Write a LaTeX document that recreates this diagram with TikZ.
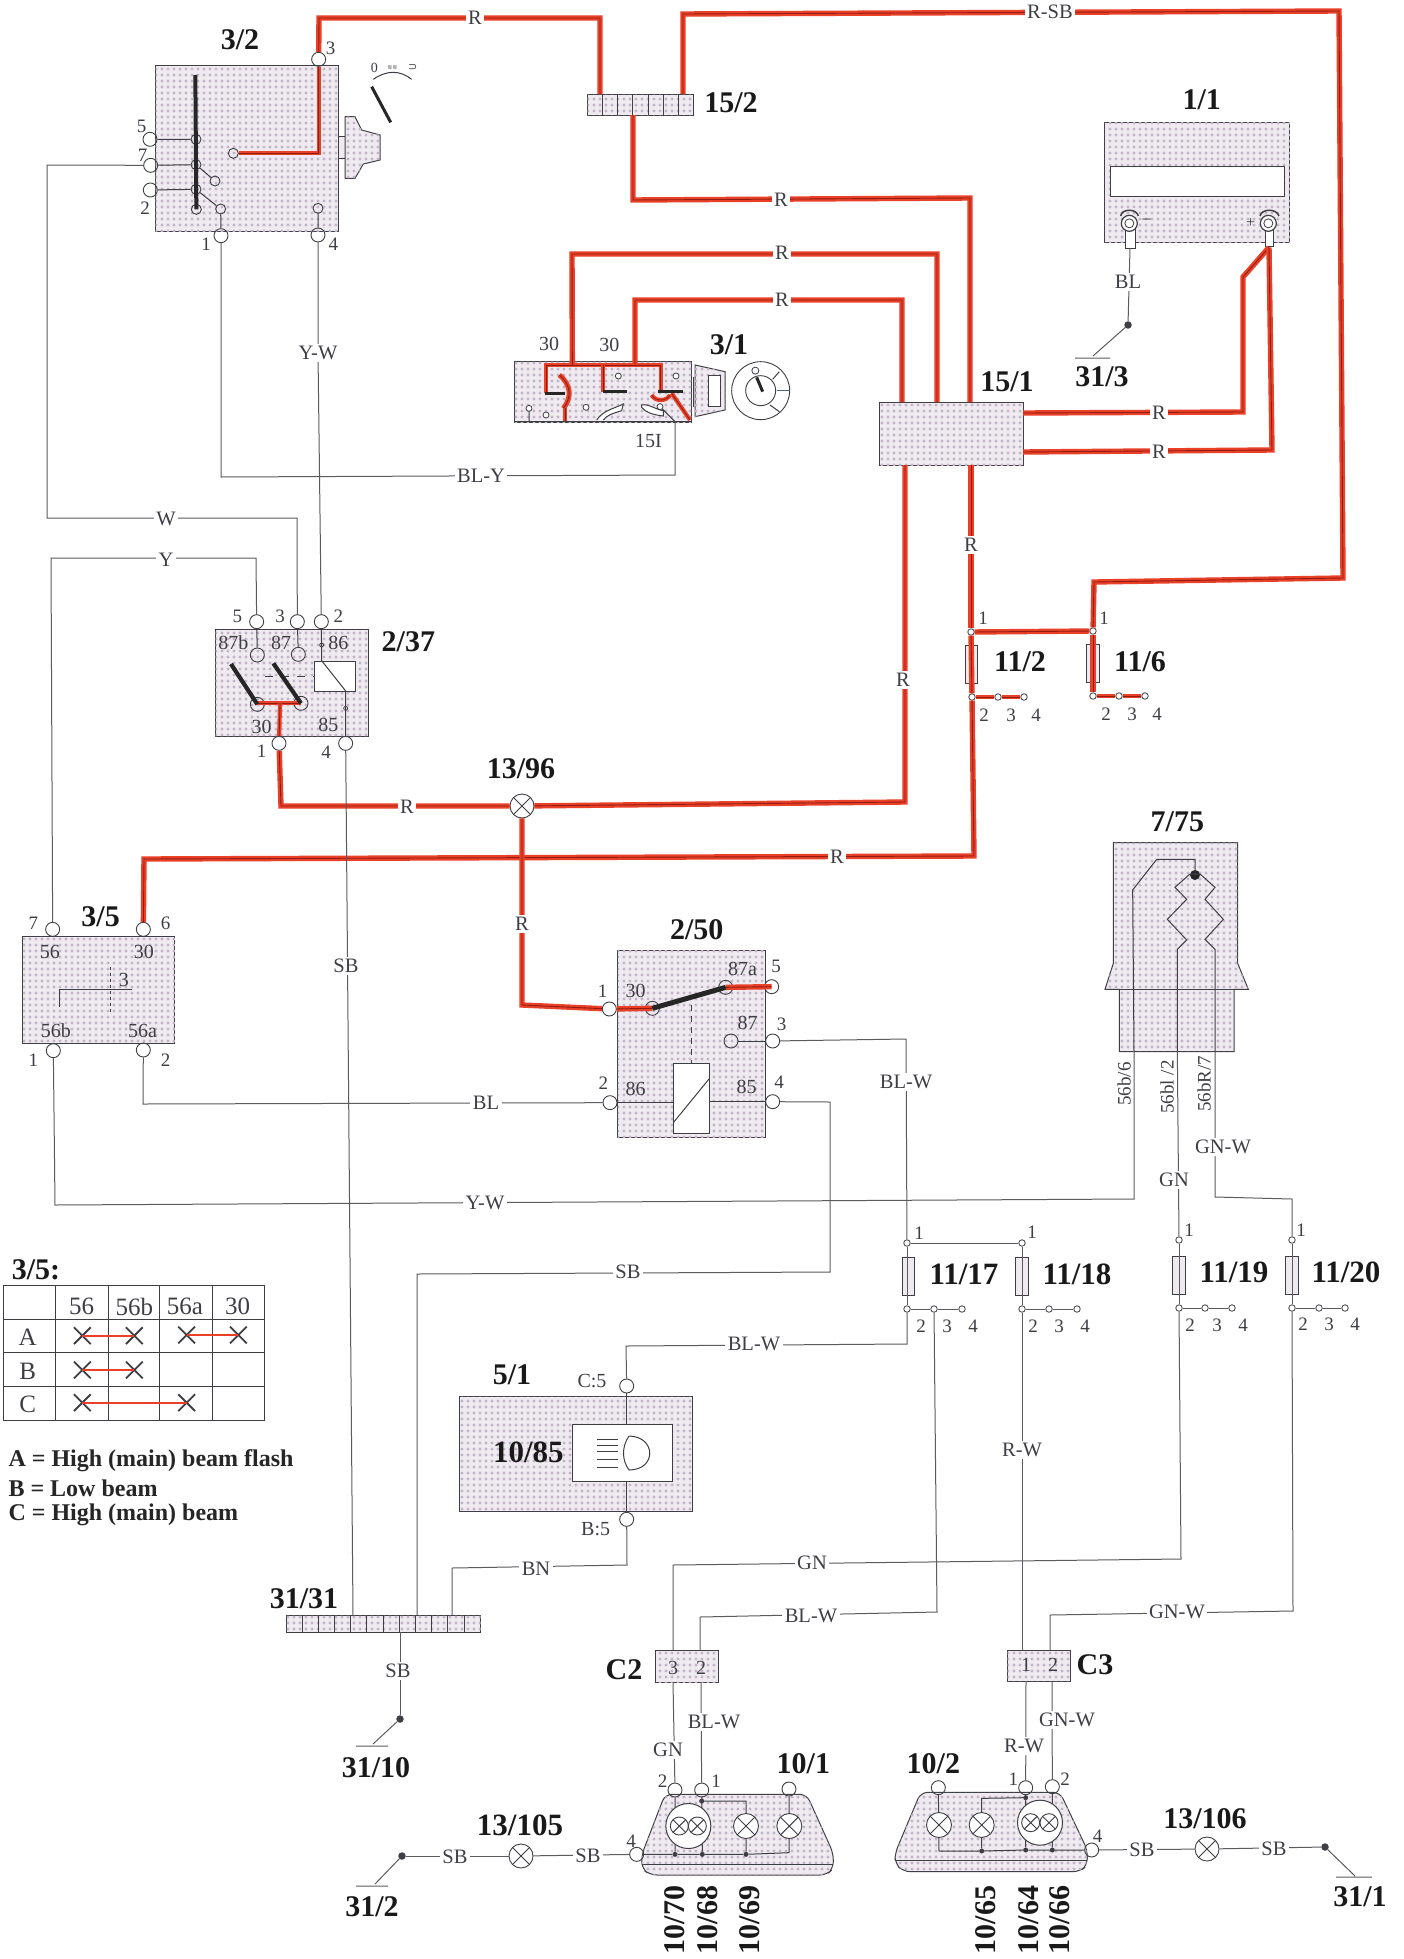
\documentclass[tikz,border=0pt]{standalone}
\usepackage{fontspec}
\setmainfont{Liberation Serif}
\newfontfamily\djv{DejaVu Sans}
\usetikzlibrary{patterns.meta,shapes.misc}
\definecolor{ink}{HTML}{3E3E44}
\definecolor{wirec}{HTML}{5C5A5E}
\definecolor{redc}{HTML}{EA4028}
\definecolor{redcore}{HTML}{8E1E12}
\definecolor{stip}{HTML}{EFEAF0}
\definecolor{stipd}{HTML}{C0B4C6}
\tikzset{
 zm/.style 2 args={shift={(#1,#2)},x=.33333pt,y=-.33333pt},
 comp/.style={draw=ink,line width=1pt,fill=stip,postaction={pattern={Dots[distance=6pt,radius=1.6pt]},pattern color=stipd}},
 box/.style 2 args={comp,rectangle,inner sep=0,anchor=north west,minimum width=#1,minimum height=#2},
 whitebox/.style={draw=ink,line width=1pt,fill=white},
 tw/.style={draw=wirec,line width=1pt},
 ik/.style={draw=ink,line width=1pt},
 redw/.style={draw=redc,line width=5.4pt,postaction={draw=redcore,line width=.9pt}},
 redm/.style={draw=redc,line width=4.2pt,postaction={draw=redcore,line width=.8pt}},
 blade/.style={draw=black!85,line width=4pt},
 pn/.style={circle,draw=ink,line width=.9pt,inner sep=0,minimum size=14pt},
 jn/.style={circle,draw=ink,line width=.8pt,inner sep=0,minimum size=6.5pt},
 jdot/.style={circle,fill=ink,inner sep=0,minimum size=5pt},
 gdot/.style={circle,fill=ink,inner sep=0,minimum size=7.5pt},
 lamp/.style={circle,draw=ink,line width=.9pt,fill=white,inner sep=0,minimum size=#1,path picture={\draw[ink,line width=.9pt] (path picture bounding box.north west)--(path picture bounding box.south east) (path picture bounding box.north east)--(path picture bounding box.south west);}},
 fuse/.style={rectangle,draw=ink,line width=.8pt,fill=stip,inner sep=0,minimum width=12.5pt,minimum height=38pt},
 ttl/.style={inner sep=0,text=black!90,font=\fontsize{30}{32}\selectfont\bfseries},
 ttlb/.style={inner sep=0,text=black!90,font=\fontsize{31}{33}\selectfont\bfseries},
 rttl/.style={ttl,rotate=90},
 num/.style={inner sep=0,text=ink,font=\fontsize{19}{21}\selectfont},
 ins/.style={inner sep=0,text=ink,font=\fontsize{20}{22}\selectfont},
 wl/.style={fill=white,inner sep=2.5pt,text=ink,font=\fontsize{20.5}{22}\selectfont},
 rl/.style={ins,rotate=90,font=\fontsize{19}{21}\selectfont},
 tab/.style={inner sep=0,text=ink,font=\fontsize{25}{27}\selectfont},
 leg/.style={inner sep=0,anchor=west,text=black!85,font=\fontsize{24}{26}\selectfont\bfseries},
 xm/.style={cross out,draw=ink,line width=1.8pt,inner sep=0,minimum size=15pt},
 tline/.style={draw=ink,line width=1pt}
}
\begin{document}
\begin{tikzpicture}[x=1pt,y=-1pt]
\useasboundingbox (0,0) rectangle (1404,1959);
\fill[white] (0,0) rectangle (1404,1959);

% ---------- 3/2 ----------
\begin{scope}[zm={120}{20}]
\node[box={183pt}{166pt}] (c32) at (105,135) {};
\node[ttl] (t32) at (360,60) {3/2};
\node[pn] (p32a) at (596,118) {};
\node[pn] (p32b) at (90,358) {};
\node[pn] (p32c) at (92,436) {};
\node[pn] (p32d) at (91,510) {};
\node[pn] (p32e) at (303,647) {};
\node[pn] (p32f) at (594,645) {};
\node[pn,minimum size=10pt] (i32a) at (228,358) {};
\node[pn,minimum size=10pt] (i32b) at (228,434) {};
\node[pn,minimum size=10pt] (i32c) at (228,508) {};
\node[pn,minimum size=10pt] (i32d) at (229,568) {};
\node[pn,minimum size=10pt] (i32e) at (285,483) {};
\node[pn,minimum size=10pt] (i32f) at (302,567) {};
\node[pn,minimum size=10pt] (i32g) at (340,400) {};
\node[pn,minimum size=10pt] (i32h) at (594,565) {};
\draw[ik] (p32b)--(i32a) (p32c)--(i32b) (p32d)--(i32c) (i32b)--(i32e) (i32c)--(i32f) (i32f)--(p32e) (i32h)--(p32f);
\draw[blade] (226,165)--(i32d.center);
\draw[redm] (i32g)--(596,400)--(p32a);
\node[num] (n32a) at (632,85) {3};
\node[num] (n32b) at (65,318) {5};
\node[num] (n32c) at (68,405) {7};
\node[num] (n32d) at (75,565) {2};
\node[num] (n32e) at (258,672) {1};
\node[num] (n32f) at (640,672) {4};
% knob and position symbol
\draw[ik,fill=stip] (658,350)--(678,350)--(678,415)--(658,415);
\draw[comp] (675,290)--(705,290)--(725,330)--(780,345)--(780,420)--(730,432)--(705,475)--(675,475)--cycle;
\draw[ik] (760,178) .. controls (800,150) and (840,150) .. (875,178);
\draw[blade,line width=3pt] (755,200)--(812,307);
\node[inner sep=0,text=ink,font=\fontsize{14}{15}\selectfont] (n32g) at (763,143) {0};
\node[inner sep=0,text=ink,font=\djv\fontsize{6}{7}\selectfont] (n32h) at (817,143) {≋≋};
\node[inner sep=0,text=ink,font=\djv\fontsize{11}{13}\selectfont] (n32i) at (878,143) {⊃};
\end{scope}

% ---------- 15/2 ----------
\node[box={106pt}{21pt}] (c152) at (587,94) {};
\foreach \xx in {602,617,632,648,663,678} \draw[ik] (\xx,94)--(\xx,115);
\node[ttl] (t152) at (731,103) {15/2};
\coordinate (a152) at (600,94);
\coordinate (b152) at (683,94);
\coordinate (d152) at (633,115);

% ---------- 1/1 ----------
\begin{scope}[zm={1080}{90}]
\node[box={185pt}{120pt}] (c11) at (73,95) {};
\draw[whitebox] (92,230) rectangle (612,320);
\node[ttl] (t11) at (365,30) {1/1};
\draw[ik,fill=white] (135,420) rectangle (165,475);
\draw[ik,fill=white] (555,420) rectangle (580,470);
\draw[ik,line width=1.5pt] (122,378) .. controls (125,355) and (170,355) .. (175,378);
\draw[ik,line width=1.5pt] (540,378) .. controls (545,355) and (590,355) .. (597,378);
\node[circle,draw=ink,line width=1.2pt,fill=white,inner sep=0,minimum size=16pt] (tm) at (148,400) {};
\node[circle,draw=ink,line width=1.2pt,fill=white,inner sep=0,minimum size=16pt] (tp) at (565,400) {};
\node[circle,draw=ink,line width=.8pt,inner sep=0,minimum size=9pt] (tmi) at (148,400) {};
\node[circle,draw=ink,line width=.8pt,inner sep=0,minimum size=9pt] (tpi) at (565,400) {};
\node[inner sep=0,text=ink,font=\fontsize{18}{20}\selectfont] (nm) at (200,398) {−};
\node[inner sep=0,text=ink,font=\fontsize{16}{18}\selectfont] (np) at (512,398) {+};
\coordinate (lm) at (150,475);
\coordinate (lp) at (567,472);
\end{scope}

% ---------- 3/1 ----------
\begin{scope}[zm={490}{320}]
\node[box={177pt}{61pt}] (c31) at (72,122) {};
\node[ttl] (t31) at (717,73) {3/1};
\coordinate (t31a) at (247,135);
\coordinate (t31b) at (435,135);
\coordinate (t31c) at (555,305);
\draw[redm] (168,220)--(168,135)--(512,135)--(512,215);
\draw[redm] (340,135)--(340,215);
\draw[redw,line width=5pt] (208,165) .. controls (245,195) and (245,235) .. (220,265);
\draw[redm] (225,265)--(225,305);
\draw[redm] (545,220)--(600,300);
\draw[redm] (485,225) .. controls (495,245) and (530,245) .. (540,225);
\draw[blade,line width=3pt] (165,220)--(225,220) (340,215)--(410,215) (505,213)--(578,213);
\foreach \cx/\cy/\cn in {385/168/a,558/168/b,288/262/c,168/285/d,117/265/e,510/260/f}
  \node[circle,draw=ink,line width=.8pt,inner sep=0,minimum size=6pt,fill=white] (s31\cn) at (\cx,\cy) {};
\draw[ik] (s31e)--(117,305) (s31f)--(555,305);
\draw[ik,fill=white] (320,300) .. controls (340,270) and (375,265) .. (400,252) -- (395,272) .. controls (370,280) and (350,285) .. (340,300);
\draw[ik,fill=white] (455,255) .. controls (475,250) and (500,270) .. (520,272) -- (520,288) .. controls (495,285) and (470,280) .. (455,262) --cycle;
\draw[ik] (72,305)--(603,305);
\draw[ik] (610,170)--(610,260);
\draw[comp] (615,135)--(705,155)--(705,270)--(615,290)--cycle;
\draw[ik,fill=white] (655,165) rectangle (690,260);
\node[circle,draw=ink,line width=.9pt,inner sep=0,minimum size=58pt] (k31) at (812,212) {};
\node[circle,draw=ink,line width=.9pt,inner sep=0,minimum size=30pt] (k31i) at (812,212) {};
\draw[blade,line width=3pt] (800,172)--(818,215);
\node[circle,draw=ink,line width=.8pt,inner sep=0,minimum size=7pt] (k31o) at (796,152) {};
\draw[ik] (848,178)--(868,155) (840,255)--(868,275);
\draw[draw=black!60!cyan,line width=1.6pt] (860,212)--(900,212);
\node[ins] (n31a) at (177,73) {30};
\node[ins] (n31b) at (358,75) {30};
\node[ins] (n31c) at (475,362) {15I};
\end{scope}

% ---------- 15/1 ----------
\node[box={144pt}{63pt}] (c151) at (879,402) {};
\node[ttl] (t151) at (1007,382) {15/1};
\coordinate (u151a) at (902,402);
\coordinate (u151b) at (937,402);
\coordinate (u151c) at (970,402);
\coordinate (r151a) at (1023,413);
\coordinate (r151b) at (1023,452);
\coordinate (d151a) at (905,465);
\coordinate (d151b) at (971,465);

% ---------- 2/37 ----------
\begin{scope}[zm={200}{590}]
\node[box={153pt}{107pt}] (c237) at (45,117) {};
\node[ttl] (t237) at (625,155) {2/37};
\node[pn] (p237a) at (170,95) {};
\node[pn] (p237b) at (292,95) {};
\node[pn] (p237c) at (364,95) {};
\node[pn] (p237d) at (237,460) {};
\node[pn] (p237e) at (437,460) {};
\node[pn] (i237a) at (172,195) {};
\node[pn] (i237b) at (295,193) {};
\node[pn] (i237c) at (172,343) {};
\node[pn] (i237d) at (303,340) {};
\node[jn,minimum size=4pt] (i237e) at (365,165) {};
\node[jn,minimum size=4pt] (i237f) at (437,355) {};
\node[rectangle,draw=ink,line width=1pt,fill=white,inner sep=0,anchor=north west,minimum width=41pt,minimum height=30pt] (k237) at (343,212) {};
\draw[ik] (p237a)--(i237a) (p237b)--(i237b) (p237c)--(365,212)--(437,303)--(p237e);
\draw[ik,dashed,dash pattern=on 8pt off 8pt] (195,258)--(343,258);
\draw[redm] (172,340)--(303,340);
\draw[blade,line width=4.2pt] (93,222)--(i237c.center) (220,220)--(i237d.center);
\node[ins] (n237a) at (100,158) {87b};
\node[ins] (n237b) at (243,158) {87};
\node[ins] (n237c) at (415,158) {86};
\node[ins] (n237d) at (185,410) {30};
\node[ins] (n237e) at (385,405) {85};
\node[num] (n237f) at (112,78) {5};
\node[num] (n237g) at (240,78) {3};
\node[num] (n237h) at (415,78) {2};
\node[num] (n237i) at (185,485) {1};
\node[num] (n237j) at (378,488) {4};
\coordinate (m237) at (240,340);
\end{scope}

% ---------- 3/5 ----------
\begin{scope}[zm={0}{900}]
\node[box={152pt}{107pt}] (c35) at (67,108) {};
\node[ttl] (t35) at (302,50) {3/5};
\node[pn] (p35a) at (158,88) {};
\node[pn] (p35b) at (430,88) {};
\node[pn] (p35c) at (160,452) {};
\node[pn] (p35d) at (430,450) {};
\draw[ik] (178,322)--(178,268)--(395,268);
\draw[ik,dashed,dash pattern=on 3pt off 3pt,line width=1.4pt] (332,200)--(332,335);
\node[ins] (n35a) at (150,155) {56};
\node[ins] (n35b) at (432,155) {30};
\node[ins] (n35c) at (168,393) {56b};
\node[ins] (n35d) at (428,393) {56a};
\node[ins] (n35e) at (372,240) {3};
\node[num] (n35f) at (100,70) {7};
\node[num] (n35g) at (497,70) {6};
\node[num] (n35h) at (100,482) {1};
\node[num] (n35i) at (497,482) {2};
\end{scope}

% ---------- 2/50 ----------
\begin{scope}[zm={590}{930}]
\node[box={148pt}{187pt}] (c250) at (82,60) {};
\node[ttl] (t250) at (320,0) {2/50};
\node[pn] (p250a) at (58,237) {};
\node[pn] (p250b) at (545,170) {};
\node[pn] (p250c) at (548,333) {};
\node[pn] (p250d) at (60,518) {};
\node[pn] (p250e) at (548,515) {};
\node[pn] (i250a) at (187,235) {};
\node[pn] (i250b) at (407,172) {};
\node[pn] (i250c) at (423,333) {};
\node[rectangle,draw=ink,line width=1pt,fill=white,inner sep=0,anchor=north west,minimum width=36pt,minimum height=70pt] (k250) at (250,398) {};
\draw[ik] (250,578)--(357,447);
\draw[ik] (p250d)--(k250.west |- p250d) (k250.east |- p250e)--(p250e) (i250c)--(p250c);
\draw[ik,dashed,dash pattern=on 6pt off 5pt] (303,225)--(303,398);
\draw[redw] (p250a)--(i250a.center);
\draw[redw] (i250b.center)--(p250b.center);
\draw[blade,line width=5pt] (i250a.center)--(i250b.center);
\node[num] (n250a) at (38,183) {1};
\node[ins] (n250b) at (137,183) {30};
\node[ins] (n250c) at (458,118) {87a};
\node[num] (n250d) at (558,110) {5};
\node[ins] (n250e) at (473,278) {87};
\node[num] (n250f) at (575,283) {3};
\node[num] (n250g) at (40,460) {2};
\node[ins] (n250h) at (137,478) {86};
\node[ins] (n250i) at (470,472) {85};
\node[num] (n250j) at (567,458) {4};
\end{scope}

% ---------- 7/75 ----------
\begin{scope}[zm={1090}{830}]
\draw[comp] (70,38)--(443,38)--(443,400)--(475,478)--(432,478)--(432,665)--(88,665)--(88,478)--(45,478)--(70,400)--cycle;
\draw[ik] (45,478)--(475,478);
\node[ttl] (t775) at (262,-25) {7/75};
\node[circle,fill=black!85,inner sep=0,minimum size=10pt] (d775) at (315,135) {};
\coordinate (b775a) at (132,665);
\coordinate (b775b) at (262,665);
\coordinate (b775c) at (375,665);
\draw[ik] (d775.center)--(315,88)--(200,88)--(128,180)--(b775a);
\draw[ik] (b775b)--(262,358)--(290,330)--(232,268)--(290,208)--(255,172)--(300,132)--(330,132)--(375,172)--(345,208)--(400,268)--(345,328)--(375,358)--(b775c);
\end{scope}
\node[rl] (r1) at (1124,1084) {56b/6};
\node[rl] (r2) at (1167,1087) {56bl /2};
\node[rl] (r3) at (1204,1084) {56bR/7};

% ---------- 13/x lamps ----------
\node[lamp=24pt] (l1396) at (522,806) {};
\node[ttl] (t1396) at (521,769) {13/96};
\node[lamp=24pt] (l13105) at (521,1856) {};
\node[ttlb] (t13105) at (520,1825) {13/105};
\node[lamp=24pt] (l13106) at (1207,1849) {};
\node[ttl] (t13106) at (1205,1819) {13/106};

% ---------- fuses ----------
\node[fuse] (f112) at (971.5,664.5) {};
\node[fuse] (f116) at (1093,663.5) {};
\node[fuse] (f1117) at (908.5,1276.5) {};
\node[fuse] (f1118) at (1022,1276.5) {};
\node[fuse] (f1119) at (1179,1275.5) {};
\node[fuse] (f1120) at (1292,1275) {};
\foreach \nm/\xx/\yy in {a/971/632,b/972/697,c/998/697,d/1024/697,e/1093/631,f/1093/696,g/1119/696,h/1145/696,
  i/907/1243,j/907/1309,k/934/1309,l/962/1309,m/1022/1243,n/1022/1309,o/1049/1309,q/1077/1309,
  r/1179/1240,s/1179/1308,t/1205/1308,u/1232/1308,v/1292/1240,w/1292/1308,y/1319/1308,z/1345/1308}
  \node[jn] (j\nm) at (\xx,\yy) {};
\foreach \nm/\xx/\yy/\tx in {a/983/618/1,b/984/715/2,c/1011/715/3,d/1036/715/4,e/1104/618/1,f/1106/714/2,g/1132/714/3,h/1157/714/4,
  i/919/1233/1,j/921/1326/2,k/947/1326/3,l/973/1326/4,m/1032/1232/1,n/1033/1326/2,o/1059/1326/3,q/1085/1326/4,
  r/1189/1230/1,s/1190/1325/2,t/1217/1325/3,u/1243/1325/4,v/1301/1230/1,w/1303/1324/2,y/1329/1324/3,z/1355/1324/4}
  \node[num] (q\nm) at (\xx,\yy) {\tx};
\node[ttl] (t112) at (1020,662) {11/2};
\node[ttl] (t116) at (1140,662) {11/6};
\node[ttlb] (t1117) at (964,1274) {11/17};
\node[ttlb] (t1118) at (1077,1274) {11/18};
\node[ttlb] (t1119) at (1234,1272) {11/19};
\node[ttlb] (t1120) at (1346,1272) {11/20};

% ---------- 5/1 ----------
\begin{scope}[zm={450}{1380}]
\node[box={233pt}{115pt}] (c51) at (27,47) {};
\node[pn] (pc5) at (530,18) {};
\node[pn] (pb5) at (530,418) {};
\node[rectangle,draw=ink,line width=1pt,fill=white,inner sep=0,anchor=north west,minimum width=100pt,minimum height=57pt] (k51) at (365,133) {};
\draw[ik] (pc5)--(k51.north -| pc5) (k51.south -| pb5)--(pb5);
\foreach \yy in {178,197,215,238,262} \draw[ik,line width=.9pt] (440,\yy)--(505,\yy);
\draw[ik] (537,168) .. controls (620,170) and (620,270) .. (537,270) .. controls (515,240) and (515,200) .. (537,168);
\node[ttlb] (t1085) at (235,218) {10/85};
\node[ttl] (t51) at (186,-15) {5/1};
\node[ins] (n51a) at (426,3) {C:5};
\node[ins] (n51b) at (437,447) {B:5};
\end{scope}

% ---------- 31/31 ----------
\node[box={194pt}{17pt}] (c3131) at (286,1615) {};
\foreach \xx in {302,318,334,350,366,383,399,415,431,447,464} \draw[ik] (\xx,1615)--(\xx,1632);
\node[ttl] (t3131) at (304,1599) {31/31};
\coordinate (u3131a) at (353,1615);
\coordinate (u3131b) at (417,1615);
\coordinate (u3131c) at (452,1615);
\coordinate (d3131) at (400,1632);

% ---------- C2 / C3 ----------
\node[box={63pt}{32pt}] (cc2) at (655,1650) {};
\node[box={63pt}{31pt}] (cc3) at (1007,1650) {};
\node[ins] (nc2a) at (673,1668) {3};
\node[ins] (nc2b) at (701,1668) {2};
\node[ins] (nc3a) at (1026,1665) {1};
\node[ins] (nc3b) at (1053,1665) {2};
\node[ttl] (tc2) at (624,1670) {C2};
\node[ttl] (tc3) at (1095,1665) {C3};
\coordinate (c2a) at (673,1650);
\coordinate (c2b) at (700,1650);
\coordinate (c2c) at (673,1682);
\coordinate (c2d) at (701,1682);
\coordinate (c3a) at (1022,1650);
\coordinate (c3b) at (1050,1650);
\coordinate (c3c) at (1026,1681);
\coordinate (c3d) at (1052,1681);

% ---------- 10/1 ----------
\begin{scope}[zm={620}{1740}]
\draw[comp,rounded corners=7pt] (135,163)--(560,163)--(640,340)--(640,385)--(620,405)--(90,405)--(65,385)--(65,345)--cycle;
\node[pn] (p101a) at (165,150) {};
\node[pn] (p101b) at (245,150) {};
\node[pn] (p101c) at (507,147) {};
\node[pn] (p101d) at (50,343) {};
\node[jdot] (d101a) at (165,343) {};
\node[jdot] (d101b) at (247,343) {};
\node[jdot] (d101c) at (378,343) {};
\node[jdot] (d101d) at (245,183) {};
\draw[ik] (65,372)--(640,372);
\draw[ik] (p101a)--(d101a) (p101b)--(d101b) (d101d.center)--(378,183)--(d101c);
\draw[ik] (p101d)--(d101a)--(d101b)--(d101c)--(507,338)--(p101c);
\node[circle,draw=ink,line width=1pt,fill=white,inner sep=0,minimum size=45pt] (g101) at (205,258) {};
\node[lamp=18pt] (l101a) at (178,258) {};
\node[lamp=18pt] (l101b) at (232,258) {};
\node[lamp=25pt] (l101c) at (378,258) {};
\node[lamp=25pt] (l101d) at (508,258) {};
\node[num] (n101a) at (128,125) {2};
\node[num] (n101b) at (288,125) {1};
\node[num] (n101c) at (33,305) {4};
\node[ttl] (t101) at (550,70) {10/1};
\node[rttl] (t1070) at (165,540) {10/70};
\node[rttl] (t1068) at (262,540) {10/68};
\node[rttl] (t1069) at (388,540) {10/69};
\end{scope}

% ---------- 10/2 ----------
\begin{scope}[zm={880}{1740}]
\draw[comp,rounded corners=7pt] (122,157)--(540,157)--(622,330)--(622,375)--(600,395)--(70,395)--(45,370)--(45,340)--cycle;
\node[pn] (p102a) at (175,143) {};
\node[pn] (p102b) at (437,143) {};
\node[pn] (p102c) at (517,140) {};
\node[pn] (p102d) at (635,330) {};
\node[jdot] (d102a) at (305,333) {};
\node[jdot] (d102b) at (437,330) {};
\node[jdot] (d102c) at (517,330) {};
\node[jdot] (d102d) at (437,173) {};
\draw[ik] (45,360)--(622,360);
\draw[ik] (p102b)--(d102b) (p102c)--(d102c) (d102d.center)--(305,175)--(d102a);
\draw[ik] (p102a)--(177,333)--(d102a)--(d102b)--(d102c)--(p102d);
\node[circle,draw=ink,line width=1pt,fill=white,inner sep=0,minimum size=45pt] (g102) at (480,248) {};
\node[lamp=18pt] (l102a) at (452,248) {};
\node[lamp=18pt] (l102b) at (507,248) {};
\node[lamp=25pt] (l102c) at (305,255) {};
\node[lamp=25pt] (l102d) at (177,255) {};
\node[num] (n102a) at (400,118) {1};
\node[num] (n102b) at (555,118) {2};
\node[num] (n102c) at (653,290) {4};
\node[ttl] (t102) at (160,70) {10/2};
\node[rttl] (t1065) at (318,540) {10/65};
\node[rttl] (t1064) at (447,540) {10/64};
\node[rttl] (t1066) at (540,540) {10/66};
\end{scope}

% ---------- grounds ----------
\node[gdot] (g313) at (1128,325) {};
\coordinate (g313a) at (1093,356);
\draw[tw] (g313)--(g313a) (1075,358)--(1110,358);
\node[ttl] (t313) at (1102,377) {31/3};
\node[gdot] (g3110) at (400,1719) {};
\coordinate (g3110a) at (373,1744);
\draw[tw] (g3110)--(g3110a) (356,1746)--(388,1746);
\node[ttl] (t3110) at (376,1768) {31/10};
\node[gdot] (g312) at (402,1856) {};
\coordinate (g312a) at (375,1884);
\draw[tw] (g312)--(g312a) (356,1886)--(388,1886);
\node[ttl] (t312) at (372,1907) {31/2};
\node[gdot] (g311) at (1325,1847) {};
\coordinate (g311a) at (1355,1876);
\draw[tw] (g311)--(g311a) (1336,1877)--(1372,1877);
\node[ttl] (t311) at (1360,1897) {31/1};

% ---------- thick red wires ----------
\draw[redw] (p32a)--(319,18)--(600,18)--(a152);
\draw[redw] (b152)--(683,14)--(1339,11)--(1343,578)--(1094,582)--(je);
\draw[redw] (d152)--(633,200)--(970,198)--(u151c);
\draw[redw] (t31a)--(572,254)--(937,254)--(u151b);
\draw[redw] (t31b)--(635,300)--(902,300)--(u151a);
\draw[redw] (r151a)--(1243,412)--(1243,277)--(lp);
\draw[redw] (r151b)--(1272,450)--(lp);
\draw[redw] (d151a)--(905,802)--(l1396);
\draw[redw] (l1396)--(281,806)--(p237d);
\draw[redm] (p237d)--(m237);
\draw[redw] (d151b)--(ja);
\draw[redw] (ja)--(je);
\draw[redw] (ja)--(jb);
\draw[redw] (jb)--(974,856)--(144,859)--(p35b);
\draw[redw] (l1396)--(522,1005)--(p250a);
\draw[redw] (je)--(jf);
\draw[redm] (jb)--(jc)--(jd);
\draw[redm] (jf)--(jg)--(jh);

% ---------- thin wires ----------
\draw[tw] (p32e)--(221,477)--(675,475)--(t31c);
\draw[tw] (p32f)--(318,353)--(p237c);
\draw[tw] (p32c)--(47,165)--(47,518)--(297,518)--(p237b);
\draw[tw] (p35a)--(51,558)--(256,558)--(p237a);
\draw[tw] (p237e)--(u3131a);
\draw[tw] (p35d)--(143,1104)--(p250d);
\draw[tw] (p35c)--(55,1205)--(1134,1199)--(b775a);
\draw[tw] (p250c)--(906,1039)--(ji);
\draw[tw] (ji)--(jm);
\draw[tw] (ji)--(jj);
\draw[tw] (jm)--(jn);
\draw[tw] (jj)--(jk)--(jl);
\draw[tw] (jn)--(jo)--(jq);
\draw[tw] (jj)--(907,1344)--(626,1346)--(pc5);
\draw[tw] (jk)--(937,1612)--(700,1617)--(c2b);
\draw[tw] (jn)--(c3a);
\draw[tw] (b775b)--(jr);
\draw[tw] (jr)--(js);
\draw[tw] (js)--(jt)--(ju);
\draw[tw] (js)--(1181,1559)--(673,1565)--(c2a);
\draw[tw] (b775c)--(1215,1197)--(1292,1199)--(jv);
\draw[tw] (jv)--(jw);
\draw[tw] (jw)--(jy)--(jz);
\draw[tw] (jw)--(1293,1611)--(1050,1615)--(c3b);
\draw[tw] (p250e)--(830,1102)--(830,1272)--(417,1274)--(u3131b);
\draw[tw] (pb5)--(627,1565)--(452,1568)--(u3131c);
\draw[tw] (d3131)--(g3110);
\draw[tw] (lm)--(g313);
\draw[tw] (g312)--(l13105);
\draw[tw] (l13105)--(p101d);
\draw[tw] (p102d)--(l13106);
\draw[tw] (l13106)--(g311);
\draw[tw] (c2c)--(p101a);
\draw[tw] (c2d)--(p101b);
\draw[tw] (c3c)--(p102b);
\draw[tw] (c3d)--(p102c);

% ---------- wire labels ----------
\node[wl] (w1) at (475,18) {R};
\node[wl] (w2) at (1050,12) {R-SB};
\node[wl] (w3) at (781,200) {R};
\node[wl] (w4) at (782,253) {R};
\node[wl] (w5) at (782,300) {R};
\node[wl] (w6) at (1159,413) {R};
\node[wl] (w7) at (1159,452) {R};
\node[wl] (w8) at (971,545) {R};
\node[wl] (w9) at (903,680) {R};
\node[wl] (w10) at (407,807) {R};
\node[wl] (w11) at (837,857) {R};
\node[wl] (w12) at (522,924) {R};
\node[wl] (w13) at (318,353) {Y-W};
\node[wl] (w14) at (481,476) {BL-Y};
\node[wl] (w15) at (166,519) {W};
\node[wl] (w16) at (166,560) {Y};
\node[wl] (w17) at (346,966) {SB};
\node[wl] (w18) at (486,1103) {BL};
\node[wl] (w19) at (485,1203) {Y-W};
\node[wl] (w20) at (906,1082) {BL-W};
\node[wl] (w21) at (1223,1147) {GN-W};
\node[wl] (w22) at (1174,1180) {GN};
\node[wl] (w23) at (628,1272) {SB};
\node[wl] (w24) at (754,1344) {BL-W};
\node[wl] (w25) at (536,1569) {BN};
\node[wl] (w26) at (812,1563) {GN};
\node[wl] (w27) at (811,1616) {BL-W};
\node[wl] (w28) at (1022,1450) {R-W};
\node[wl] (w29) at (1177,1612) {GN-W};
\node[wl] (w30) at (398,1671) {SB};
\node[wl] (w31) at (714,1722) {BL-W};
\node[wl] (w32) at (668,1750) {GN};
\node[wl] (w33) at (1024,1746) {R-W};
\node[wl] (w34) at (1067,1720) {GN-W};
\node[wl] (w35) at (455,1857) {SB};
\node[wl] (w36) at (588,1856) {SB};
\node[wl] (w37) at (1142,1850) {SB};
\node[wl] (w38) at (1274,1849) {SB};
\node[wl] (w39) at (1128,282) {BL};

% ---------- table 3/5 ----------
\begin{scope}[zm={0}{1250}]
\node[ttl] (t35b) at (108,58) {3/5:};
\draw[tline] (10,105) rectangle (793,510);
\foreach \xx in {168,325,480,637} \draw[tline] (\xx,105)--(\xx,510);
\foreach \yy in {208,308,408} \draw[tline] (10,\yy)--(793,\yy);
\node[tab] (h1) at (245,170) {56};
\node[tab] (h2) at (403,170) {56b};
\node[tab] (h3) at (555,170) {56a};
\node[tab] (h4) at (713,170) {30};
\node[tab] (ra) at (83,262) {A};
\node[tab] (rb) at (83,365) {B};
\node[tab] (rc) at (83,463) {C};
\node[xm] (xa1) at (247,257) {};
\node[xm] (xa2) at (403,257) {};
\node[xm] (xa3) at (560,255) {};
\node[xm] (xa4) at (715,255) {};
\node[xm] (xb1) at (247,360) {};
\node[xm] (xb2) at (403,360) {};
\node[xm] (xc1) at (247,458) {};
\node[xm] (xc3) at (560,458) {};
\draw[draw=redc,line width=2.2pt] (xa1.center)--(xa2.center);
\draw[draw=redc,line width=2.2pt] (xa3.center)--(xa4.center);
\draw[draw=redc,line width=2.2pt] (xb1.center)--(xb2.center);
\draw[draw=redc,line width=2.2pt] (xc1.center)--(xc3.center);
\node[leg] (la) at (25,632) {A = High (main) beam flash};
\node[leg] (lb) at (25,715) {B = Low beam};
\node[leg] (lc) at (25,795) {C = High (main) beam};
\end{scope}
\end{tikzpicture}
\end{document}
